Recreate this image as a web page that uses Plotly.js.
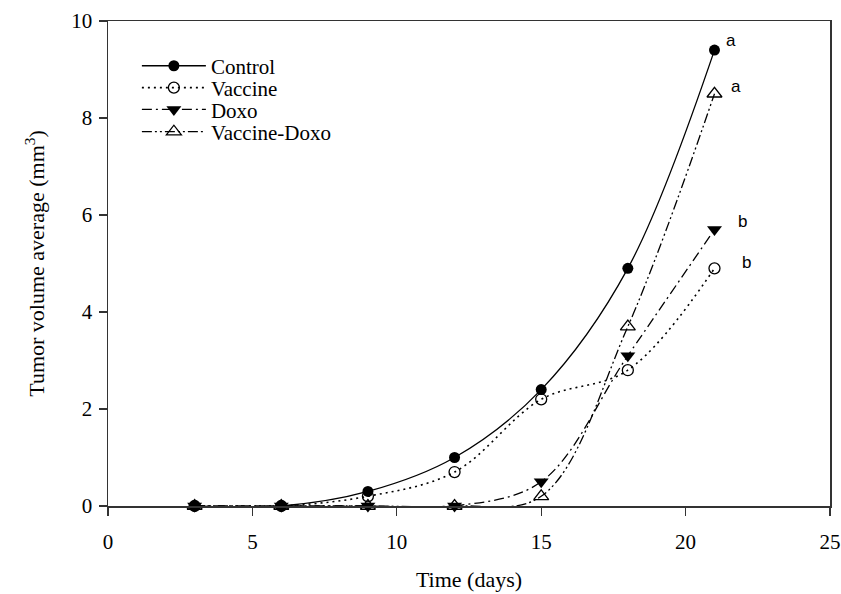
<!DOCTYPE html>
<html>
<head>
<meta charset="utf-8">
<script src="https://cdn.plot.ly/plotly-3.0.1.min.js"></script>
<style>html,body{margin:0;padding:0;background:#fff;}#chart{width:841px;height:594px;}</style>
</head>
<body>
<div id="chart"></div>
<script>
var days = [3, 6, 9, 12, 15, 18, 21];
var control = [0, 0, 0.3, 1.0, 2.4, 4.9, 9.4];
var vaccine = [0, 0, 0.2, 0.7, 2.2, 2.8, 4.9];
var doxo = [0, 0, 0, 0, 0.5, 3.1, 5.7];
var vaccineDoxo = [0, 0, 0, 0, 0.2, 3.7, 8.5];
var seriesNames = ["Control", "Vaccine", "Doxo", "Vaccine-Doxo"];
var groupLetters = ["a", "b", "b", "a"];

var serif = "Liberation Serif, Times New Roman, serif";
var data = [
  {x: days, y: control, name: seriesNames[0], mode: "lines+markers", legend: "legend", cliponaxis: false,
   line: {color: "#000", width: 1.3, shape: "spline", smoothing: 1},
   marker: {symbol: "circle", size: 11, color: "#000"}},
  {x: days, y: vaccine, name: seriesNames[1], mode: "lines+markers", legend: "legend2", cliponaxis: false,
   line: {color: "#000", width: 1.6, shape: "spline", smoothing: 1, dash: "2px,4px"},
   marker: {symbol: "circle-open", size: 11, color: "#000", line: {width: 1.3}}},
  {x: days, y: doxo, name: seriesNames[2], mode: "lines+markers", legend: "legend3", cliponaxis: false,
   line: {color: "#000", width: 1.3, shape: "spline", smoothing: 1, dash: "10px,4px,2px,4px"},
   marker: {symbol: "triangle-down", size: 13, color: "#000"}},
  {x: days, y: vaccineDoxo, name: seriesNames[3], mode: "lines+markers", legend: "legend4", cliponaxis: false,
   line: {color: "#000", width: 1.3, shape: "spline", smoothing: 1, dash: "10px,3px,2px,3px,2px,3px"},
   marker: {symbol: "triangle-up-open", size: 13, color: "#000", line: {width: 1.3}}}
];

var last = days.length - 1;
var finals = [control[last], vaccine[last], doxo[last], vaccineDoxo[last]];
var shifts = [[17, 10], [32, 6], [28, 8], [22, 7]];
var annotations = finals.map(function (v, i) {
  return {x: days[last], y: v, xref: "x", yref: "y", text: groupLetters[i], showarrow: false,
    xshift: shifts[i][0], yshift: shifts[i][1],
    font: {family: "Liberation Sans, Arial, sans-serif", size: 17, color: "#000"}};
});

function legendAt(y) {
  return {x: 0.04, y: y, xanchor: "left", yanchor: "middle", bgcolor: "rgba(0,0,0,0)",
    font: {family: serif, size: 21, color: "#000"}, itemwidth: 64};
}

var layout = {
  width: 841, height: 594,
  margin: {l: 108, r: 11, t: 21, b: 88},
  paper_bgcolor: "#fff", plot_bgcolor: "#fff",
  showlegend: true,
  legend: legendAt(0.907),
  legend2: legendAt(0.862),
  legend3: legendAt(0.817),
  legend4: legendAt(0.771),
  xaxis: {range: [0, 25], tickvals: [0, 5, 10, 15, 20, 25], ticks: "outside", ticklen: 8,
    tickcolor: "#333", tickwidth: 1.3, showline: true, linecolor: "#333", linewidth: 1.5, mirror: true,
    showgrid: false, zeroline: false, ticklabelstandoff: 8, tickfont: {family: serif, size: 21, color: "#000"},
    title: {text: "Time (days)", font: {family: serif, size: 22, color: "#000"}, standoff: 19}},
  yaxis: {range: [0, 10], tickvals: [0, 2, 4, 6, 8, 10], ticks: "outside", ticklen: 8,
    tickcolor: "#333", tickwidth: 1.3, showline: true, linecolor: "#333", linewidth: 1.5, mirror: true,
    showgrid: false, zeroline: false, ticklabelstandoff: 2, tickfont: {family: serif, size: 21, color: "#000"},
    title: {text: "Tumor volume average (mm<sup>3</sup>)", font: {family: serif, size: 22, color: "#000"}, standoff: 20}},
  annotations: annotations
};

Plotly.newPlot("chart", data, layout, {displayModeBar: false, staticPlot: true});
</script>
</body>
</html>
